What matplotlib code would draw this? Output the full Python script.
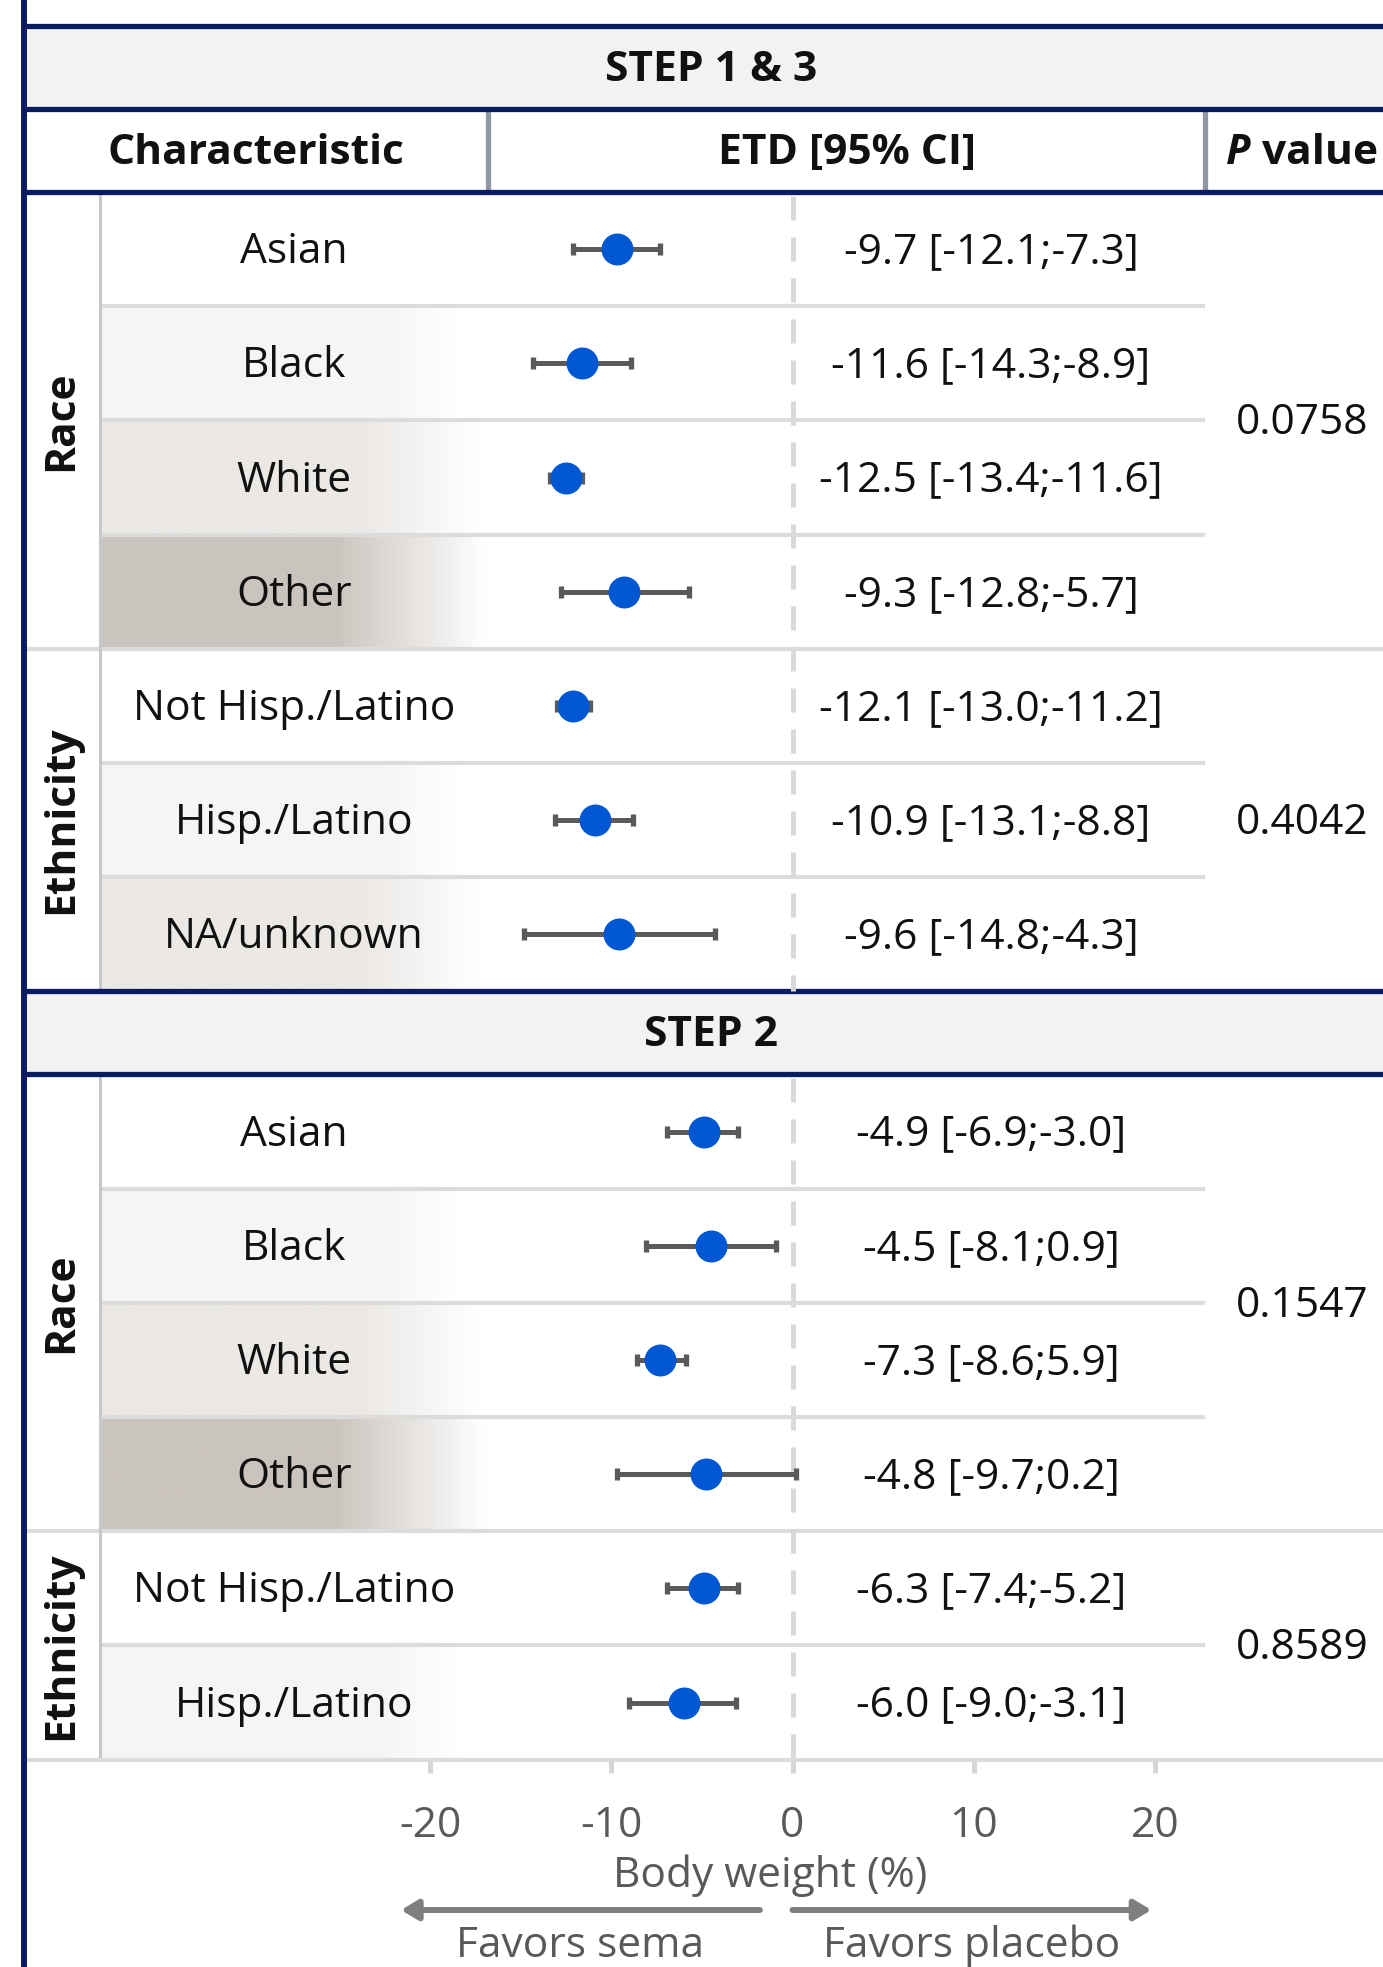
import matplotlib
matplotlib.use('Agg')
import matplotlib.pyplot as plt
from matplotlib.colors import to_rgb
import numpy as np

plt.rcParams['font.family'] = ['Open Sans', 'DejaVu Sans']

# ---------- data ----------
sec1_title = 'STEP 1 & 3'
sec1_groups = ['Race', 'Ethnicity']
sec1_sizes = [4, 3]
sec1_labels = ['Asian', 'Black', 'White', 'Other',
               'Not Hisp./Latino', 'Hisp./Latino', 'NA/unknown']
sec1_est = [-9.7, -11.6, -12.5, -9.3, -12.1, -10.9, -9.6]
sec1_lo = [-12.1, -14.3, -13.4, -12.8, -13.0, -13.1, -14.8]
sec1_hi = [-7.3, -8.9, -11.6, -5.7, -11.2, -8.8, -4.3]
sec1_text = ['-9.7 [-12.1;-7.3]', '-11.6 [-14.3;-8.9]', '-12.5 [-13.4;-11.6]',
             '-9.3 [-12.8;-5.7]', '-12.1 [-13.0;-11.2]', '-10.9 [-13.1;-8.8]',
             '-9.6 [-14.8;-4.3]']
sec1_p = ['0.0758', '0.4042']

sec2_title = 'STEP 2'
sec2_groups = ['Race', 'Ethnicity']
sec2_sizes = [4, 2]
sec2_labels = ['Asian', 'Black', 'White', 'Other',
               'Not Hisp./Latino', 'Hisp./Latino']
# plotted positions as drawn in the figure
sec2_est = [-4.9, -4.5, -7.3, -4.8, -4.9, -6.0]
sec2_lo = [-6.9, -8.1, -8.6, -9.7, -6.9, -9.0]
sec2_hi = [-3.0, -0.9, -5.9, 0.2, -3.0, -3.1]
sec2_text = ['-4.9 [-6.9;-3.0]', '-4.5 [-8.1;0.9]', '-7.3 [-8.6;5.9]',
             '-4.8 [-9.7;0.2]', '-6.3 [-7.4;-5.2]', '-6.0 [-9.0;-3.1]']
sec2_p = ['0.1547', '0.8589']

xticks = [-20, -10, 0, 10, 20]

# ---------- style ----------
NAVY = '#0a1d63'
SEP = '#8f97a5'
ROWLINE = '#dcdcdc'
TXT = '#111111'
GRAYTXT = '#595959'
DOT = '#0057d3'
ERR = '#5a5a5a'
BAND = '#f3f2f1'
FS = 30.6
DY = 3   # small downward nudge so text sits like the original
shade_cols = {1: ('#f6f5f4', 380, 460), 2: ('#ebe8e5', 360, 480), 3: ('#cbc4be', 335, 485)}
sec1_shade = [0, 1, 2, 3, 0, 1, 2]
sec2_shade = [0, 1, 2, 3, 0, 1]

W, H = 1383, 1967
ROW_H = 114.2
BAND_H = 83
fig = plt.figure(figsize=(W / 100, H / 100), dpi=100)
bg = fig.add_axes([0, 0, 1, 1])
bg.axis('off')

X_L, X_G, X_C, X_E, X_R = 24, 100, 488, 1205, W
PX0, PX1 = 430, 1155   # pixel span of -20..20


def gradient(y0, level):
    col, xs, xe = shade_cols[level]
    xs_px = np.linspace(X_G, X_C, 400)
    t = np.clip((xs_px - xs) / (xe - xs), 0, 1)[None, :, None]
    c = np.array(to_rgb(col))[None, None, :]
    img = c + (1 - c) * t
    bg.imshow(img, extent=(X_G, X_C, y0 + ROW_H, y0), aspect='auto',
              interpolation='bilinear', zorder=0)


def band(top, title):
    bot = top + BAND_H
    bg.fill_between([X_L, X_R], top, bot, color=BAND, zorder=0, lw=0)
    bg.text((X_L + 1398) / 2, (top + bot) / 2 + DY, title, ha='center', va='center',
            fontsize=FS, fontweight='bold', color=TXT)
    bg.hlines([top, bot], X_L, X_R, color=NAVY, lw=3.8, zorder=5)
    return bot


def section(rows_top, groups, sizes, labels, shades, ptexts, etd_text):
    centers = []
    i = 0
    for g, n, p in zip(groups, sizes, ptexts):
        g_top = rows_top + i * ROW_H
        g_bot = g_top + n * ROW_H
        for k in range(n):
            y0 = g_top + k * ROW_H
            if shades[i + k]:
                gradient(y0, shades[i + k])
            yc = y0 + ROW_H / 2
            centers.append(yc)
            bg.text((X_G + X_C) / 2, yc + DY, labels[i + k], ha='center', va='center',
                    fontsize=FS, color=TXT)
            bg.text(991, yc + DY, etd_text[i + k], ha='center', va='center',
                    fontsize=FS, color=TXT)
            if k > 0:
                bg.hlines(y0, X_G, X_E, color=ROWLINE, lw=3, zorder=2)
        bg.text((X_L + X_G) / 2, (g_top + g_bot) / 2, g, rotation=90, ha='center',
                va='center', fontsize=FS, fontweight='bold', color=TXT)
        bg.text(1302, (g_top + g_bot) / 2 + DY, p, ha='center', va='center',
                fontsize=FS, color=TXT)
        if i + n < len(labels):
            bg.hlines(g_bot, X_L, X_R, color=ROWLINE, lw=3, zorder=2)
        i += n
    rows_bot = rows_top + len(labels) * ROW_H
    bg.vlines(X_G, rows_top, rows_bot, color='#c8c8c8', lw=2.2, zorder=2)
    return rows_bot, centers


# STEP 1 & 3 band and column header row
hdr_top = band(26, sec1_title)
hdr_bot = hdr_top + BAND_H
bg.hlines(hdr_bot, X_L, X_R, color=NAVY, lw=3.8, zorder=5)
bg.vlines([X_C, X_E], hdr_top, hdr_bot, color=SEP, lw=3.8, zorder=4)
hdr_y = (hdr_top + hdr_bot) / 2 + DY
bg.text((X_L + X_C) / 2, hdr_y, 'Characteristic', ha='center', va='center',
        fontsize=FS, fontweight='bold', color=TXT)
bg.text((X_C + X_E) / 2, hdr_y, 'ETD [95% CI]', ha='center', va='center',
        fontsize=FS, fontweight='bold', color=TXT)
t1 = bg.text(0, hdr_y, 'P', ha='left', va='center', fontsize=FS,
             fontweight='bold', fontstyle='italic', color=TXT)
t2 = bg.text(0, hdr_y, ' value', ha='left', va='center', fontsize=FS,
             fontweight='bold', color=TXT)

s1_top = hdr_bot
s1_bot, c1 = section(s1_top, sec1_groups, sec1_sizes, sec1_labels,
                     sec1_shade, sec1_p, sec1_text)
s2_top = band(s1_bot, sec2_title)
s2_bot, c2 = section(s2_top, sec2_groups, sec2_sizes, sec2_labels,
                     sec2_shade, sec2_p, sec2_text)
bg.hlines(s2_bot, X_L, X_R, color=ROWLINE, lw=3, zorder=2)
bg.vlines(X_L, 0, H, color=NAVY, lw=4.3, zorder=6)

bg.set_xlim(0, W)
bg.set_ylim(H, 0)

# ---------- forest plot ----------
fa = fig.add_axes([PX0 / W, (H - s2_bot) / H, (PX1 - PX0) / W, (s2_bot - s1_top) / H])
fa.patch.set_alpha(0)
for sp in fa.spines.values():
    sp.set_visible(False)
fa.yaxis.set_visible(False)
fa.set_xlim(xticks[0], xticks[-1])
fa.set_ylim(s2_bot, s1_top)

for (r_top, r_bot) in [(s1_top, s1_bot), (s2_top, s2_bot)]:
    fa.vlines(0, r_top + 4, r_bot, color='#d9d9d9', lw=3.6, linestyles=(0, (4.8, 3.4)))

ests = np.array(sec1_est + sec2_est)
los = np.array(sec1_lo + sec2_lo)
his = np.array(sec1_hi + sec2_hi)
ys = c1 + c2
fa.errorbar(ests, ys, xerr=[ests - los, his - ests],
            fmt='o', ms=22, color=DOT, mec=DOT, ecolor=ERR, elinewidth=3.6,
            capsize=4.3, capthick=3.8, zorder=5)

fa.set_xticks(xticks)
fa.set_xticklabels([str(v) for v in xticks])
fa.tick_params(axis='x', direction='out', length=9.4, width=3.6, color='#d6d6d9',
               labelsize=FS, labelcolor=GRAYTXT, pad=23)

# axis title and direction arrows
bg.text(770, 1873 + DY, 'Body weight (%)', ha='center', va='center', fontsize=FS,
        color=GRAYTXT)
arrows = [(-1.8, -21.6, 'Favors sema'), (0.0, 19.8, 'Favors placebo')]
for x_from, x_to, lab in arrows:
    fa.annotate('', xy=(x_to, 1910), xytext=(x_from, 1910), annotation_clip=False,
                arrowprops=dict(arrowstyle='-|>,head_length=0.5,head_width=0.3',
                                mutation_scale=20, lw=4.3, color='#7f7f7f',
                                shrinkA=0, shrinkB=0))
    fa.text((x_from + x_to) / 2, 1943 + DY, lab, ha='center', va='center', fontsize=FS,
            color=GRAYTXT, clip_on=False)

# place the "P value" header pieces side by side
fig.canvas.draw()
r = fig.canvas.get_renderer()
w1 = t1.get_window_extent(r).width
w2 = t2.get_window_extent(r).width
start = 1302 - (w1 + w2) / 2
t1.set_x(start)
t2.set_x(start + w1)

fig.savefig('out.png', dpi=100, facecolor='white')
